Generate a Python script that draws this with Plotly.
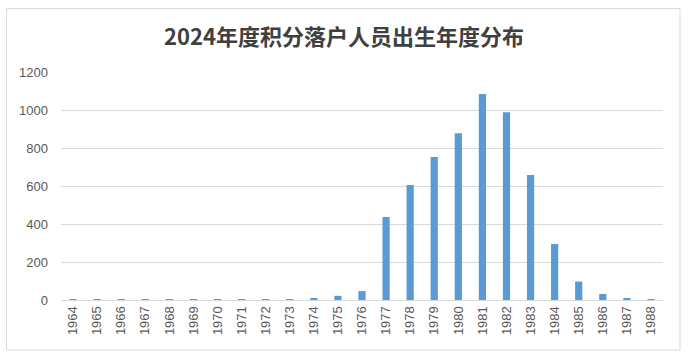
import plotly.graph_objects as go

years = [str(y) for y in range(1964, 1989)]
counts = [2, 1, 2, 1, 1, 1, 1, 1, 2, 3, 8, 22, 47, 437, 605, 753, 877, 1084, 988, 658, 295, 97, 32, 7, 2]
y_ticks = [0, 200, 400, 600, 800, 1000, 1200]
title_text = "2024年度积分落户人员出生年度分布"

fig = go.Figure(go.Bar(x=years, y=counts, marker=dict(color="#5B9BD5", line=dict(width=0))))

L, R, T, B = 61, 25, 72, 60
W, H = 688, 360
pw, ph = W - L - R, H - T - B

def px(x):
    return (x - L) / pw

def py(y):
    return (H - B - y) / ph

fig.update_layout(
    width=W, height=H,
    margin=dict(l=L, r=R, t=T, b=B),
    paper_bgcolor="white", plot_bgcolor="white",
    bargap=0.7,
    showlegend=False,
    font=dict(family="Liberation Sans, Arial, sans-serif", size=13, color="#595959"),
    title=dict(text="<b>" + title_text + "</b>", x=0.5, xanchor="center", y=1 - 37 / H, yanchor="middle",
               font=dict(family="Noto Sans CJK SC", size=22, color="#404040")),
    xaxis=dict(type="category", tickangle=-90, showgrid=False, showline=True, linecolor="#D9D9D9",
               linewidth=1, ticks="", tickfont=dict(size=13, color="#595959"), fixedrange=True),
    yaxis=dict(range=[0, 1200], tickvals=y_ticks, showgrid=True, gridcolor="#D9D9D9", gridwidth=1,
               zeroline=False, showline=False, ticks="", ticklabelstandoff=12,
               tickfont=dict(size=13, color="#595959"), fixedrange=True),
    shapes=[dict(type="rect", xref="paper", yref="paper",
                 x0=px(6.5), x1=px(680), y0=py(350), y1=py(8.5),
                 line=dict(color="#D9D9D9", width=1), fillcolor="rgba(0,0,0,0)", layer="below")],
)

fig.write_html("out.html", config={"displayModeBar": False},
               post_script="document.body.style.margin='0';document.body.style.overflow='hidden';")
